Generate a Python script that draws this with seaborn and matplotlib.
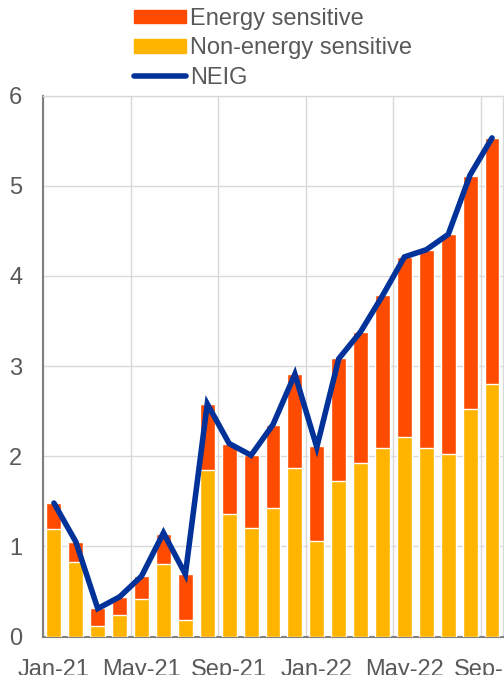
import numpy as np
import pandas as pd
import seaborn as sns
import matplotlib.pyplot as plt
from matplotlib.patches import Patch
from matplotlib.lines import Line2D

# Data (annual % changes, percentage points)
months = ['Jan-21', 'Feb-21', 'Mar-21', 'Apr-21', 'May-21', 'Jun-21', 'Jul-21',
          'Aug-21', 'Sep-21', 'Oct-21', 'Nov-21', 'Dec-21', 'Jan-22', 'Feb-22',
          'Mar-22', 'Apr-22', 'May-22', 'Jun-22', 'Jul-22', 'Aug-22', 'Sep-22']
non_energy = [1.19, 0.83, 0.12, 0.24, 0.42, 0.80, 0.18, 1.85, 1.36, 1.20, 1.42,
              1.87, 1.06, 1.73, 1.92, 2.09, 2.21, 2.09, 2.02, 2.52, 2.80]
energy = [0.29, 0.22, 0.20, 0.20, 0.25, 0.34, 0.51, 0.73, 0.78, 0.81, 0.93,
          1.04, 1.05, 1.36, 1.46, 1.70, 2.00, 2.20, 2.44, 2.59, 2.73]
neig = [1.48, 1.05, 0.31, 0.44, 0.67, 1.15, 0.69, 2.58, 2.14, 2.01, 2.35,
        2.91, 2.10, 3.08, 3.38, 3.78, 4.21, 4.29, 4.46, 5.12, 5.53]

df = pd.DataFrame({'month': months, 'non_energy': non_energy,
                   'energy': energy, 'neig': neig})
df['total'] = df['non_energy'] + df['energy']

c_energy = '#FF4B00'
c_non = '#FFB400'
c_line = '#003299'
c_text = '#595959'
c_grid = '#D9D9D9'

sns.set_theme(style='white')
plt.rcParams['font.family'] = ['Liberation Sans', 'DejaVu Sans']

fig = plt.figure(figsize=(5.04, 6.75), dpi=100)
ax = fig.add_axes([0.0853, 0.057, 0.9127, 0.8015])

# stacked bars: total first (energy on top), then non-energy
sns.barplot(data=df, x='month', y='total', color=c_energy, width=0.68,
            saturation=1, ax=ax, zorder=2)
sns.barplot(data=df, x='month', y='non_energy', color=c_non, width=0.68,
            saturation=1, ax=ax, zorder=3)
ax.plot(np.arange(len(months)), df['neig'], color=c_line, lw=4,
        solid_capstyle='round', solid_joinstyle='miter', zorder=4)

ax.set_xlim(-0.5, len(months) - 0.5)
ax.set_ylim(0, 6)
ax.set_yticks(range(0, 7))
ax.set_xlabel('')
ax.set_ylabel('')

# category boundaries every 4 months carry tick marks and gridlines
ax.set_xticks(np.arange(-0.5, len(months), 4))
ax.set_xticklabels([])
ax.set_xticks(np.arange(0, len(months), 4), minor=True)
ax.set_xticklabels([months[i] for i in range(0, len(months), 4)], minor=True)

ax.tick_params(axis='x', which='major', direction='out', length=6, width=1.5,
               color='#808080')
ax.tick_params(axis='x', which='minor', length=0, pad=16, labelsize=17,
               labelcolor=c_text)
ax.tick_params(axis='y', direction='in', length=7, width=1.5, color='#808080',
               pad=15, labelsize=17, labelcolor=c_text)

ax.grid(True, which='major', color=c_grid, lw=1, zorder=0)
ax.set_axisbelow(True)
for side in ['left', 'bottom']:
    ax.spines[side].set_color('#808080')
    ax.spines[side].set_linewidth(1.5)
for side in ['top', 'right']:
    ax.spines[side].set_color(c_grid)
    ax.spines[side].set_linewidth(1)

handles = [Patch(color=c_energy, label='Energy sensitive'),
           Patch(color=c_non, label='Non-energy sensitive'),
           Line2D([0], [0], color=c_line, lw=4, solid_capstyle='round', label='NEIG')]
leg = fig.legend(handles=handles, loc='upper left', bbox_to_anchor=(0.265, 0.988),
                 frameon=False, fontsize=17, handlelength=2.2, handleheight=0.5,
                 handletextpad=0.2, labelspacing=0.31, borderpad=0.0,
                 borderaxespad=0.0)
for t in leg.get_texts():
    t.set_color(c_text)

fig.savefig('out.png', dpi=100)
